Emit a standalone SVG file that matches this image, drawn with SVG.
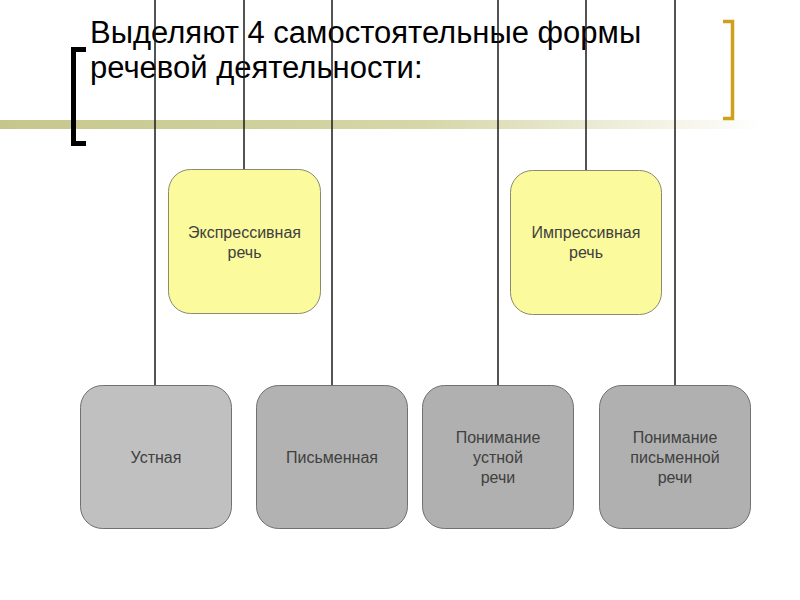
<svg xmlns="http://www.w3.org/2000/svg" width="800" height="600" viewBox="0 0 800 600">
<defs>
<linearGradient id="band" x1="0" y1="0" x2="1" y2="0">
<stop offset="0" stop-color="#c6c68c"/>
<stop offset="0.55" stop-color="#d6d6a8"/>
<stop offset="1" stop-color="#ffffff"/>
</linearGradient>
</defs>
<style>
.title{font-family:"Liberation Sans",Arial,sans-serif;font-size:31px;fill:#000}
.lbl{font-family:"Liberation Sans",Arial,sans-serif;font-size:16px;fill:#404040;text-anchor:middle}
.yel{fill:#fbfa9c;stroke:#8a8a70;stroke-width:1}
.gry{stroke:#707070;stroke-width:1}
.conn line{stroke:#1a1a1a;stroke-width:1.5}
</style>
<rect width="800" height="600" fill="#fff"/>
<rect x="0" y="120" width="765" height="9" fill="url(#band)"/>
<path d="M86,49.5 H73.5 V143.5 H86" fill="none" stroke="#000" stroke-width="5"/>
<path d="M723,21.5 H732.5 V118.5 H723" fill="none" stroke="#cfa11a" stroke-width="3.5"/>
<text class="title" x="90" y="43">Выделяют 4 самостоятельные формы</text>
<text class="title" x="90" y="78">речевой деятельности:</text>
<g class="conn" id="connectors">
<line x1="155" y1="0" x2="155" y2="385"/>
<line x1="244" y1="0" x2="244" y2="170"/>
<line x1="332" y1="0" x2="332" y2="385"/>
<line x1="498" y1="0" x2="498" y2="385"/>
<line x1="586" y1="0" x2="586" y2="170"/>
<line x1="675" y1="0" x2="675" y2="385"/>
</g>
<g id="expressive">
<rect class="yel" x="168.5" y="169.5" width="152" height="144" rx="22"/>
<text class="lbl" x="244.5" y="238">Экспрессивная</text>
<text class="lbl" x="244.5" y="258">речь</text>
</g>
<g id="impressive">
<rect class="yel" x="510.5" y="170.5" width="151" height="144" rx="22"/>
<text class="lbl" x="586" y="238">Импрессивная</text>
<text class="lbl" x="586" y="258">речь</text>
</g>
<g id="oral">
<rect class="gry" fill="#c0c0c0" x="80.5" y="385.5" width="151" height="143" rx="22"/>
<text class="lbl" x="156" y="463">Устная</text>
</g>
<g id="written">
<rect class="gry" fill="#b2b2b2" x="256.5" y="385.5" width="151" height="143" rx="22"/>
<text class="lbl" x="332" y="463">Письменная</text>
</g>
<g id="oral-comprehension">
<rect class="gry" fill="#b0b0b0" x="422.5" y="385.5" width="151" height="143" rx="22"/>
<text class="lbl" x="498" y="443">Понимание</text>
<text class="lbl" x="498" y="463">устной</text>
<text class="lbl" x="498" y="483">речи</text>
</g>
<g id="written-comprehension">
<rect class="gry" fill="#b0b0b0" x="599.5" y="385.5" width="151" height="143" rx="22"/>
<text class="lbl" x="675" y="443">Понимание</text>
<text class="lbl" x="675" y="463">письменной</text>
<text class="lbl" x="675" y="483">речи</text>
</g>
</svg>
